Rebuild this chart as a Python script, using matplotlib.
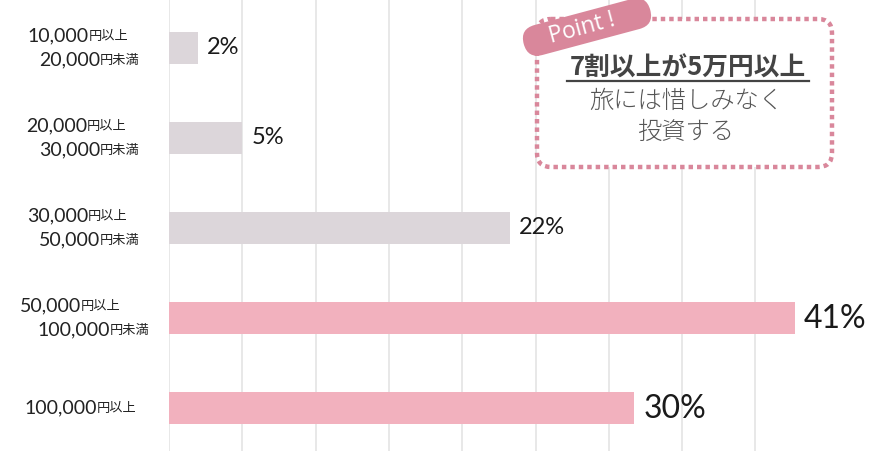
import matplotlib.pyplot as plt
from matplotlib.patches import FancyBboxPatch
from matplotlib.transforms import Affine2D
import numpy as np

plt.rcParams['font.family'] = ['Lato', 'Noto Sans CJK JP', 'DejaVu Sans']

# data
amounts = [["10,000", "20,000"], ["20,000", "30,000"], ["30,000", "50,000"],
           ["50,000", "100,000"], ["100,000"]]
units = [["円以上", "円未満"], ["円以上", "円未満"], ["円以上", "円未満"],
         ["円以上", "円未満"], ["円以上"]]
values = [1.9, 4.8, 22.3, 40.9, 30.4]
value_labels = ["2%", "5%", "22%", "41%", "30%"]
highlight = [False, False, False, True, True]

gray = '#dcd6da'
pink = '#f2b1be'
rose = '#d9879b'
jp = ['Noto Sans CJK JP', 'DejaVu Sans']

fig = plt.figure(figsize=(8.69, 4.51), dpi=100)
ax = fig.add_axes([169/869, 0, 700/869, 1])

ypos = np.arange(len(values))
cols = [pink if h else gray for h in highlight]
ax.barh(ypos, values, height=32/90, color=cols, zorder=2)
ax.set_xlim(0, 700/15.3)
ax.set_ylim(4.478, -0.533)
ax.set_xticks(np.arange(9) * 73.3/15.3)
ax.set_yticks([])
ax.tick_params(length=0, labelbottom=False)
ax.grid(axis='x', color='#e4e4e4', lw=1.2, zorder=0)
for s in ax.spines.values():
    s.set_visible(False)

# value labels
for i, (v, lab) in enumerate(zip(values, value_labels)):
    big = highlight[i]
    ax.annotate(lab, (v, i), xytext=(9, -1 if big else 0), textcoords='offset pixels',
                ha='left', va='center', fontsize=23 if big else 17,
                color='#1a1a1a')

# category labels: number part + smaller unit part
splits = [[89, 100], [87, 100], [88, 100], [81, 110], [97]]
for i in range(len(amounts)):
    n = len(amounts[i])
    offs = [12, -12] if n == 2 else [0]
    for j in range(n):
        x0 = splits[i][j]
        ax.annotate(amounts[i][j], xy=(x0, i), xycoords=('figure pixels', 'data'),
                    xytext=(0, offs[j]), textcoords='offset pixels',
                    ha='right', va='center', fontsize=14, color='#222222',
                    annotation_clip=False)
        ax.annotate(units[i][j], xy=(x0, i), xycoords=('figure pixels', 'data'),
                    xytext=(0, offs[j] - 1), textcoords='offset pixels',
                    ha='left', va='center', fontsize=9.5, color='#222222',
                    family=jp, annotation_clip=False)

# point box overlay (pixel coordinates)
ov = fig.add_axes([0, 0, 1, 1], zorder=5)
ov.set_xlim(0, 869)
ov.set_ylim(451, 0)
ov.axis('off')
ov.patch.set_alpha(0)

box = FancyBboxPatch((537, 19), 295, 148, boxstyle="round,pad=0,rounding_size=14",
                     fc='white', ec=rose, lw=3.2, linestyle=(0, (1, 0.9)),
                     capstyle='butt')
ov.add_patch(box)

cx, cy, L, H = 587, 27, 131, 31
pill = FancyBboxPatch((cx - L/2, cy - H/2), L, H,
                      boxstyle="round,pad=0,rounding_size=15.5", fc=rose, ec='none')
pill.set_transform(Affine2D().rotate_deg_around(cx, cy, -15) + ov.transData)
ov.add_patch(pill)
ov.text(cx - 5, cy + 1, "Point !", rotation=15, rotation_mode='anchor',
        ha='center', va='center', fontsize=16.5, color='white', fontweight='medium',
        family=['Open Sans', 'DejaVu Sans'])

ov.text(688, 68, "7割以上が5万円以上", ha='center', va='center', fontsize=18.5,
        fontweight='bold', color='#444444', family=jp)
ov.plot([567, 809], [81, 81], color='#444444', lw=1.6)
ov.text(686, 101, "旅には惜しみなく", ha='center', va='center', fontsize=17.5,
        color='#555555', family=jp, fontweight='light')
ov.text(686, 132, "投資する", ha='center', va='center', fontsize=17.5,
        color='#555555', family=jp, fontweight='light')

fig.savefig('out.png', dpi=100)
